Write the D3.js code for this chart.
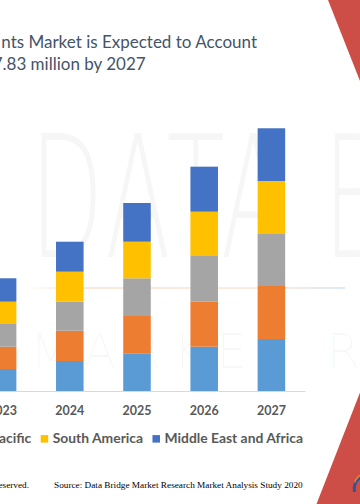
<!DOCTYPE html>
<html><head><meta charset="utf-8">
<script src="https://cdn.jsdelivr.net/npm/d3@7"></script>
<style>html,body{margin:0;padding:0;background:#fff;overflow:hidden}</style>
</head><body>
<svg id="chart" width="360" height="504"></svg>
<script>
// ---- data (USD million) ----
const years = ["2023","2024","2025","2026","2027"];
const seriesNames = ["North America","Europe","Asia-Pacific","South America","Middle East and Africa"];
const northAmerica     = [9.85, 13.43, 16.88, 19.84, 23.29];
const europe           = [9.99, 13.57, 16.70, 20.15, 23.73];
const asiaPacific      = [10.16, 12.99, 16.88, 20.46, 23.29];
const southAmerica     = [9.99, 13.43, 16.39, 19.84, 23.73];
const middleEastAfrica = [10.48, 13.43, 17.33, 20.15, 23.60];
const seriesColors = ["#5b9bd5","#ed7d31","#a5a5a5","#ffc000","#4472c4"];
const titleLines = ["nts Market is Expected to Account","7.83 million by 2027"];
const sourceText = "Source: Data Bridge Market Research Market Analysis Study 2020";
const rightsText = "All Rights Reserved.";

const svg = d3.select("#chart");
svg.append("rect").attr("width",360).attr("height",504).attr("fill","#fff");

function fitSize(sel, target){
  const w = sel.node().getComputedTextLength();
  const fs = parseFloat(sel.attr("font-size"));
  return fs * target / w;
}

// ---- watermark ----
const wm = svg.append("g").attr("class","watermark");
const grad = svg.append("defs").append("linearGradient").attr("id","wmline").attr("x1","0").attr("x2","1");
grad.append("stop").attr("offset","0").attr("stop-color","#f4b183").attr("stop-opacity",0);
grad.append("stop").attr("offset","0.15").attr("stop-color","#f4b183").attr("stop-opacity",0.3);
grad.append("stop").attr("offset","0.75").attr("stop-color","#f4b183").attr("stop-opacity",0.25);
grad.append("stop").attr("offset","1").attr("stop-color","#9dc3e6").attr("stop-opacity",0.35);
wm.append("text").attr("x",30).attr("y",257)
  .attr("font-family","DejaVu Sans").attr("font-weight",200)
  .attr("font-size",170).attr("letter-spacing",6)
  .attr("fill","#000").attr("fill-opacity",0.035)
  .attr("textLength",460).attr("lengthAdjust","spacingAndGlyphs")
  .text("DATA BRI");
wm.append("rect").attr("x",25).attr("y",287).attr("width",320).attr("height",2).attr("fill","url(#wmline)");
wm.append("text").attr("x",30).attr("y",368)
  .attr("font-family","DejaVu Sans").attr("font-weight",200)
  .attr("font-size",48).attr("fill","#000").attr("fill-opacity",0.028)
  .attr("textLength",330).attr("lengthAdjust","spacing")
  .text("MARKET R");

// ---- scales ----
const x = d3.scaleBand().domain(years).range([-31, 305]).paddingInner(0.59).paddingOuter(0.295);
const y = d3.scaleLinear().domain([0, 120]).range([391, 123]);

const table = years.map((yr,i)=>({
  year: yr,
  [seriesNames[0]]: northAmerica[i],
  [seriesNames[1]]: europe[i],
  [seriesNames[2]]: asiaPacific[i],
  [seriesNames[3]]: southAmerica[i],
  [seriesNames[4]]: middleEastAfrica[i]
}));
const stacked = d3.stack().keys(seriesNames)(table);
const color = d3.scaleOrdinal().domain(seriesNames).range(seriesColors);

svg.append("g").selectAll("g").data(stacked).join("g")
  .attr("fill", d => color(d.key))
  .selectAll("rect").data(d => d).join("rect")
  .attr("x", d => x(d.data.year))
  .attr("width", x.bandwidth())
  .attr("y", d => y(d[1]))
  .attr("height", d => y(d[0]) - y(d[1]));

// ---- axis ----
const axis = svg.append("g").attr("transform","translate(0,391)")
  .call(d3.axisBottom(x).tickSize(0).tickSizeOuter(0).tickPadding(15));
axis.select(".domain").attr("stroke","#d9d9d9").attr("stroke-width",1);
axis.selectAll(".tick text").attr("font-family","Lato").attr("font-weight","bold")
  .attr("fill","#595959").attr("font-size",13);
const tfs = fitSize(axis.selectAll(".tick text").filter((d,i)=>i===1), 29);
axis.selectAll(".tick text").attr("font-size", tfs);
axis.attr("font-size", null);

// ---- title ----
const t1 = svg.append("text").attr("x",257).attr("y",48.3).attr("text-anchor","end")
  .attr("font-family","Lato").attr("font-size",17).attr("fill","#44546a").text(titleLines[0]);
const tf = fitSize(t1, 256);
t1.attr("font-size", tf);
svg.append("text").attr("x",145.7).attr("y",70).attr("text-anchor","end")
  .attr("font-family","Lato").attr("font-size",tf).attr("fill","#44546a").text(titleLines[1]);

// ---- legend ----
const lg = svg.append("g");
const items = lg.selectAll("g").data(seriesNames).join("g");
items.append("rect").attr("width",7.5).attr("height",7.5).attr("y",-8.2)
  .attr("fill", d => color(d));
const ltexts = items.append("text").attr("x",12).attr("y",0)
  .attr("font-family","Lato").attr("font-weight","bold").attr("font-size",14)
  .attr("fill","#595959").text(d => d);
const lfs = fitSize(ltexts.filter(d => d === seriesNames[4]), 138.7);
ltexts.attr("font-size", lfs);
let cx = 0; const pos = [];
ltexts.each(function(){ pos.push(cx); cx += 12 + this.getComputedTextLength() + 9.4; });
const shift = 40.7 - pos[3];
items.attr("transform",(d,i)=>`translate(${pos[i]+shift},443.3)`);

// ---- footer ----
const src = svg.append("text").attr("x",54).attr("y",488)
  .attr("font-family","Liberation Serif").attr("font-size",10).attr("fill","#000").text(sourceText);
const sfs = fitSize(src, 249);
src.attr("font-size", sfs);
svg.append("text").attr("x",29).attr("y",488).attr("text-anchor","end")
  .attr("font-family","Liberation Serif").attr("font-size",sfs).attr("fill","#000").text(rightsText);

// ---- decorative red corners ----
svg.append("path").attr("d","M328,0L360,0L360,81Z").attr("fill","#cd4d47");
svg.append("path").attr("d","M316.5,504L360,392.5L360,504Z").attr("fill","#cd4d47");
svg.append("path").attr("d","M353,492C352,484 355,478 361,476L361,479C357,481 355,486 356,492Z").attr("fill","#2f5597");
svg.append("path").attr("d","M354,482C356,477 359,475 361,474L361,475.5C359,477 357,479 355,483Z").attr("fill","#ed7d31");
</script>
</body></html>
